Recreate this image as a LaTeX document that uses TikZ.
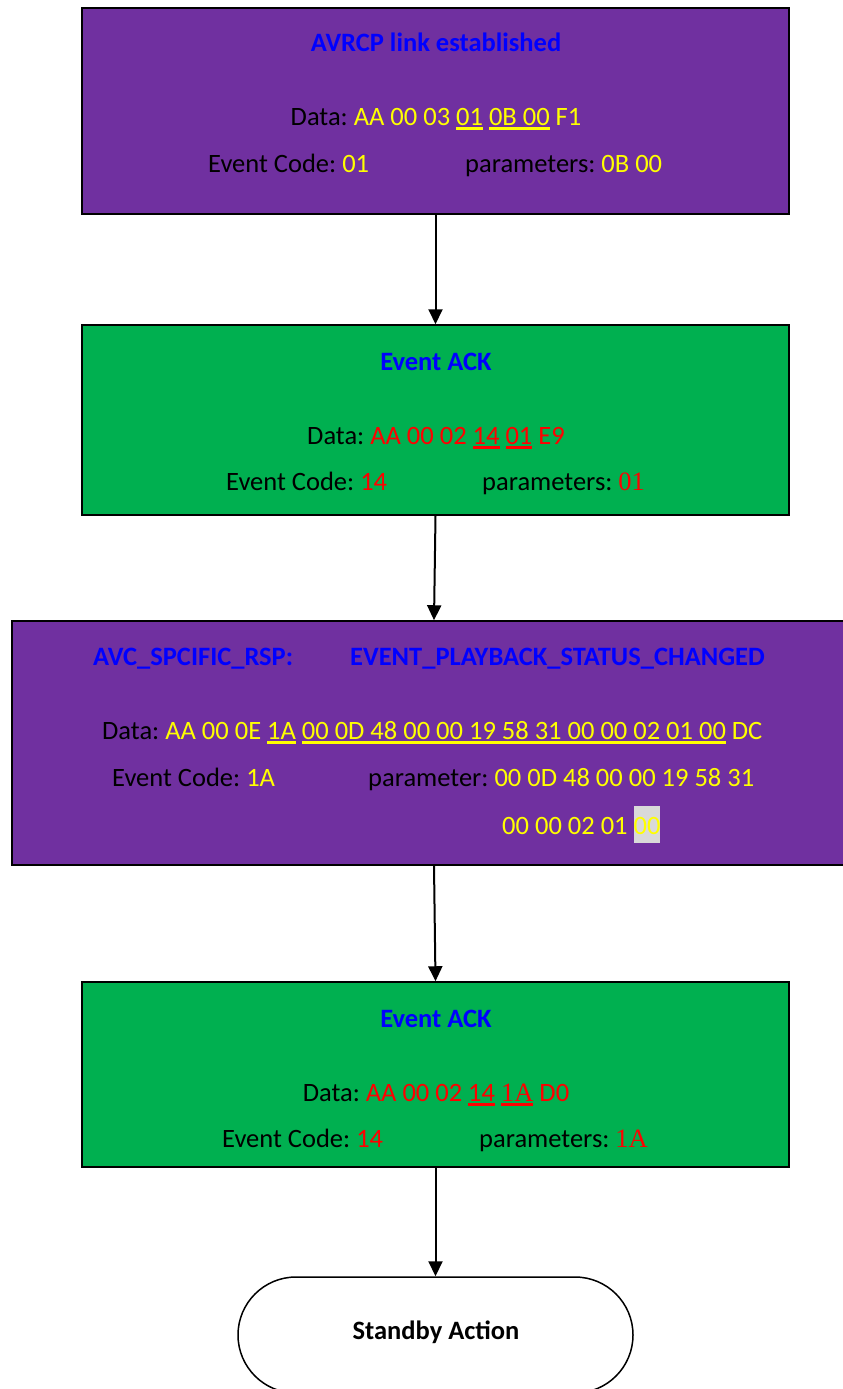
\documentclass[tikz,border=0pt]{standalone}
\usepackage{fontspec}
\setmainfont{Carlito}
\newfontfamily\tms{Liberation Serif}
\usetikzlibrary{arrows.meta,calc}
\definecolor{purp}{HTML}{7030A0}
\definecolor{grn}{HTML}{00B050}
\definecolor{ttl}{HTML}{0000FF}
\definecolor{ylw}{HTML}{FFFF00}
\definecolor{rd}{HTML}{FF0000}
\definecolor{hlg}{HTML}{D9D9D9}
\newcommand\uln[2]{\leavevmode\setbox0=\hbox{#2}\rlap{\textcolor{#1}{\rule[-5pt]{\wd0}{3pt}}}\box0\relax}
\newcommand\yl[1]{\textcolor{ylw}{#1}}
\newcommand\rdt[1]{\textcolor{rd}{#1}}
\frenchspacing
\tikzset{
  x=1pt, y=-1pt,
  box/.style={draw=black, line width=1.5pt, inner sep=0pt, minimum width=707pt},
  pbox/.style={box, fill=purp},
  gbox/.style={box, fill=grn},
  txt/.style={inner sep=0pt, font=\fontsize{26.5}{32}\selectfont},
  ttxt/.style={txt, font=\fontsize{26.5}{32}\selectfont\bfseries, text=ttl},
  arr/.style={line width=2pt, -{Triangle[width=14pt,length=15pt]}},
  term/.style={draw=black, line width=1.5pt, fill=white, rounded corners=58pt, minimum width=395pt, minimum height=116pt, inner sep=0pt}
}
\begin{document}
\begin{tikzpicture}
\useasboundingbox (0,0) rectangle (843,1389);
\begin{scope}
\clip (0,0) rectangle (843,1389);
% boxes
\node[pbox, minimum height=206pt] (b1) at (435.5,111) {};
\node[gbox, minimum height=190pt] (b2) at (435.5,420) {};
\node[pbox, minimum width=836pt, minimum height=244pt] (b3) at (430,743) {};
\node[gbox, minimum height=185pt] (b4) at (435.5,1074.5) {};
\node[term] (b5) at (435.5,1335) {};

% box 1
\node[ttxt, anchor=base] (t1) at (436,52) {AVRCP link established};
\node[txt, anchor=base] (d1) at (436,125) {Data: \yl{AA 00 03 \uln{ylw}{01} \uln{ylw}{0B 00} F1}};
\node[txt, anchor=base west] (e1) at (208,172) {Event Code: \yl{01}};
\node[txt, anchor=base west] (p1) at (465,172) {parameters: \yl{0B 00}};

% box 2
\node[ttxt, anchor=base] (t2) at (436,370) {Event ACK};
\node[txt, anchor=base] (d2) at (436,444) {Data: \rdt{AA 00 02 \uln{rd}{14} \uln{rd}{01} E9}};
\node[txt, anchor=base west] (e2) at (226,490) {Event Code: \rdt{14}};
\node[txt, anchor=base west] (p2) at (482,490) {parameters: \rdt{\tms 01}};

% box 3
\node[ttxt, anchor=base west] (t3a) at (93,665) {AVC\_SPCIFIC\_RSP:};
\node[ttxt, anchor=base west] (t3b) at (350,665) {EVENT\_PLAYBACK\_STATUS\_CHANGED};
\node[txt, anchor=base west] (d3) at (102,739) {Data: \yl{AA 00 0E \uln{ylw}{1A} \uln{ylw}{00 0D 48 00 00 19 58 31 00 00 02 01 00} DC}};
\node[txt, anchor=base west] (e3) at (112,786) {Event Code: \yl{1A}};
\node[txt, anchor=base west] (p3) at (368,786) {parameter: \yl{00 0D 48 00 00 19 58 31}};
\node[txt, anchor=base west] (q3) at (502,834) {\yl{00 00 02 01 }{\setlength\fboxsep{0pt}\colorbox{hlg}{\rule[-9pt]{0pt}{37pt}\yl{00}}}};

% box 4
\node[ttxt, anchor=base] (t4) at (436,1027) {Event ACK};
\node[txt, anchor=base] (d4) at (436,1101) {Data: \rdt{AA 00 02 \uln{rd}{14} \uln{rd}{\tms 1A} D0}};
\node[txt, anchor=base west] (e4) at (222,1147) {Event Code: \rdt{14}};
\node[txt, anchor=base west] (p4) at (479,1147) {parameters: \rdt{\tms 1A}};

% terminal
\node[txt, font=\fontsize{26.5}{30}\selectfont\bfseries, anchor=base] (t5) at (436,1339) {Standby Action};

% arrows
\draw[arr] (b1.south) -- (b2.north);
\draw[arr] (b2.south) -- ([xshift=4pt]b3.north);
\draw[arr] ([xshift=4pt]b3.south) -- (b4.north);
\draw[arr] (b4.south) -- (b5.north);
\end{scope}
\end{tikzpicture}
\end{document}
